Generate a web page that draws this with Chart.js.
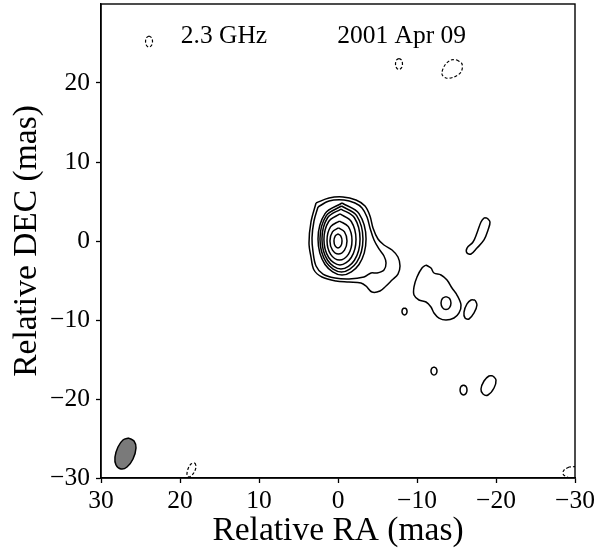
<!DOCTYPE html>
<html>
<head>
<meta charset="utf-8">
<script src="https://cdn.jsdelivr.net/npm/chart.js@4.4.0/dist/chart.umd.min.js"></script>
<style>
  html, body { margin: 0; padding: 0; background: #fff; }
  canvas { display: block; }
</style>
</head>
<body>
<canvas id="map" width="598" height="554"></canvas>
<script>
// contours as [RA, DEC] pairs in mas
// positive levels, outermost first
const core1 = [[2.78,4.81],[1.14,5.44],[-0.63,5.57],[-2.28,5.19],[-3.42,4.43],[-4.05,3.16],[-4.43,1.65],[-5.06,0.25],
  [-5.82,-0.51],[-6.84,-1.14],[-7.59,-2.03],[-7.85,-3.16],[-7.59,-4.18],[-6.84,-4.94],[-6.08,-5.70],[-5.32,-6.33],
  [-4.30,-6.46],[-3.54,-5.70],[-2.91,-5.32],[-1.39,-5.19],[0.25,-5.06],[2.03,-4.56],[3.04,-3.67],[3.42,-2.03],
  [3.67,-0.25],[3.42,2.41]];
const core2 = [[2.53,4.30],[1.14,5.06],[-0.76,5.19],[-2.15,4.81],[-3.04,4.18],[-3.67,3.04],[-4.05,1.65],[-4.56,0.13],
  [-5.19,-1.01],[-5.82,-1.90],[-6.08,-2.78],[-5.82,-3.67],[-4.94,-4.05],[-4.18,-4.05],[-3.29,-4.56],[-1.39,-4.81],
  [0.38,-4.68],[1.90,-4.18],[2.78,-3.16],[3.16,-1.39],[3.29,0.38],[3.04,2.53]];
const core3 = [[-0.51,4.81],[-2.66,3.47],[-3.55,0.25],[-2.66,-2.97],[-0.51,-4.31],[1.64,-2.97],[2.53,0.25],[1.64,3.47]];
const core4 = [[-0.44,4.43],[-2.36,3.21],[-3.16,0.25],[-2.36,-2.71],[-0.44,-3.93],[1.48,-2.71],[2.28,0.25],[1.48,3.21]];
const core5 = [[-0.38,4.05],[-2.08,2.94],[-2.79,0.25],[-2.08,-2.44],[-0.38,-3.55],[1.32,-2.44],[2.03,0.25],[1.32,2.94]];
const core6 = [[-0.25,3.42],[-1.68,2.47],[-2.28,0.19],[-1.68,-2.09],[-0.25,-3.04],[1.18,-2.09],[1.78,0.19],[1.18,2.47]];
const core7 = [[-0.19,2.53],[-1.31,1.81],[-1.77,0.06],[-1.31,-1.69],[-0.19,-2.41],[0.93,-1.69],[1.39,0.06],[0.93,1.81]];
const core8 = [[-0.06,1.65],[-0.82,1.16],[-1.14,0],[-0.82,-1.16],[-0.06,-1.65],[0.70,-1.16],[1.02,0],[0.70,1.16]];
const core9 = [[0,0.89],[-0.36,0.63],[-0.51,0],[-0.36,-0.63],[0,-0.89],[0.36,-0.63],[0.51,0],[0.36,0.63]];

const jetBlob = [[-11.14,-3.04],[-11.77,-3.42],[-12.15,-4.05],[-13.04,-4.30],[-13.80,-4.94],[-14.43,-5.95],[-15.06,-6.84],
  [-15.57,-8.10],[-15.32,-9.11],[-14.68,-9.75],[-13.67,-10.00],[-12.78,-9.75],[-12.15,-9.11],[-11.77,-8.35],
  [-11.14,-7.72],[-10.25,-7.47],[-9.62,-6.84],[-9.62,-5.82],[-10.00,-4.56],[-10.63,-3.42]];
const jetKnot = [[-13.67,-7.03],[-14.12,-7.27],[-14.30,-7.85],[-14.12,-8.43],[-13.67,-8.67],[-13.22,-8.43],[-13.04,-7.85],[-13.22,-7.27]];
const jetSide = [[-17.34,-7.47],[-17.59,-8.10],[-17.22,-9.11],[-16.58,-9.87],[-16.08,-9.75],[-15.95,-8.99],[-16.33,-7.97],[-16.84,-7.47]];
const jetDot = [[-8.42,-8.48],[-8.65,-8.61],[-8.74,-8.92],[-8.65,-9.23],[-8.42,-9.36],[-8.19,-9.23],[-8.10,-8.92],[-8.19,-8.61]];
const northStreak = [[-18.86,2.91],[-19.24,2.41],[-18.99,1.39],[-18.48,0.13],[-17.59,-0.89],[-16.84,-1.65],[-16.33,-1.52],
  [-16.33,-0.89],[-17.09,-0.13],[-17.59,1.01],[-18.10,2.41],[-18.48,2.91]];
const southDot1 = [[-12.15,-15.95],[-12.42,-16.10],[-12.53,-16.46],[-12.42,-16.82],[-12.15,-16.97],[-11.88,-16.82],[-11.77,-16.46],[-11.88,-16.10]];
const southDot2 = [[-15.89,-18.23],[-16.20,-18.41],[-16.33,-18.86],[-16.20,-19.31],[-15.89,-19.49],[-15.58,-19.31],[-15.45,-18.86],[-15.58,-18.41]];
const southBlob = [[-19.62,-17.09],[-20.00,-17.59],[-19.75,-18.61],[-18.99,-19.49],[-18.35,-19.37],[-18.10,-18.73],[-18.48,-17.72],[-19.11,-17.09]];

// negative level (dashed)
const negTopLeft = [[23.92,25.95],[23.61,25.75],[23.48,25.25],[23.61,24.75],[23.92,24.55],[24.23,24.75],[24.36,25.25],[24.23,25.75]];
const negTop1 = [[-7.72,23.11],[-8.03,22.91],[-8.16,22.41],[-8.03,21.91],[-7.72,21.71],[-7.41,21.91],[-7.28,22.41],[-7.41,22.91]];
const negTop2 = [[-15.06,22.91],[-15.70,22.41],[-15.57,21.39],[-14.68,20.76],[-13.67,20.63],[-13.16,21.14],[-13.54,22.28],[-14.30,22.91]];
const negBottomLeft = [[18.10,-28.10],[17.97,-28.61],[18.35,-29.49],[18.86,-29.87],[19.11,-29.62],[18.99,-28.86],[18.61,-28.23]];
const negBottomRight = [[-29.24,-28.61],[-28.61,-28.99],[-28.48,-29.49],[-28.99,-29.87],[-29.75,-30.0],[-30.51,-29.75],[-30.76,-29.11],[-30.25,-28.61]];

// restoring beam
const beam = [[26.46,-24.94],[25.82,-25.32],[25.57,-26.20],[25.95,-27.59],[26.71,-28.61],[27.47,-28.86],[28.10,-28.35],
  [28.23,-27.34],[27.85,-26.08],[27.22,-25.19]];

const positive = [core1, core2, core3, core4, core5, core6, core7, core8, core9,
  jetBlob, jetKnot, jetSide, jetDot, northStreak, southDot1, southDot2, southBlob];
const negative = [negTopLeft, negTop1, negTop2, negBottomLeft, negBottomRight];

const xTicks = [30, 20, 10, 0, -10, -20, -30];
const yTicks = [20, 10, 0, -10, -20, -30];
const freqLabel = '2.3 GHz';
const dateLabel = '2001 Apr 09';

const serif = '"Liberation Serif", "Times New Roman", serif';
const toXY = pts => pts.concat([pts[0]]).map(p => ({ x: p[0], y: p[1] }));
const fmt = v => (v < 0 ? '\u2212' + Math.abs(v) : String(v));

const datasets = [];
positive.forEach(c => datasets.push({
  data: toXY(c), showLine: true, pointRadius: 0, borderColor: '#000', borderWidth: 1.5, tension: 0.35, fill: false
}));
negative.forEach(c => datasets.push({
  data: toXY(c), showLine: true, pointRadius: 0, borderColor: '#000', borderWidth: 1.2, borderDash: [3, 2],
  tension: 0.35, fill: false
}));
datasets.push({
  data: toXY(beam), showLine: true, pointRadius: 0, borderColor: '#000', borderWidth: 1.5, tension: 0.35,
  fill: 'shape', backgroundColor: '#7a7a7a'
});

const annotations = [
  { text: freqLabel, x: 19.9, y: 25.1 },
  { text: dateLabel, x: 0.1, y: 25.1 }
];

const framePlugin = {
  id: 'frame',
  afterDraw(chart) {
    const { ctx, chartArea: a } = chart;
    ctx.save();
    ctx.strokeStyle = '#000';
    ctx.lineWidth = 1.4;
    ctx.strokeRect(a.left, a.top, a.right - a.left, a.bottom - a.top);
    ctx.restore();
  }
};

const labelPlugin = {
  id: 'mapLabels',
  afterDatasetsDraw(chart) {
    const { ctx, scales: { x, y } } = chart;
    ctx.save();
    ctx.font = '25.5px ' + serif;
    ctx.fillStyle = '#000';
    ctx.textAlign = 'left';
    ctx.textBaseline = 'alphabetic';
    annotations.forEach(a => ctx.fillText(a.text, x.getPixelForValue(a.x), y.getPixelForValue(a.y)));
    ctx.restore();
  }
};

new Chart(document.getElementById('map').getContext('2d'), {
  type: 'scatter',
  data: { datasets },
  options: {
    responsive: false,
    animation: false,
    layout: { padding: { top: 4, right: 23, left: 0, bottom: 0 } },
    plugins: { legend: { display: false }, tooltip: { enabled: false } },
    scales: {
      x: {
        type: 'linear', reverse: true, min: -30, max: 30,
        afterBuildTicks: s => { s.ticks = xTicks.map(v => ({ value: v })); },
        afterFit: s => { s.height = 76; s.paddingLeft = 0; s.paddingRight = 0; },
        grid: { drawOnChartArea: false, drawTicks: true, tickLength: 5, tickColor: '#000', tickWidth: 1.3 },
        border: { display: true, color: '#000', width: 1.4 },
        ticks: { color: '#000', font: { family: serif, size: 25.5 }, padding: 3, maxRotation: 0, autoSkip: false, callback: fmt },
        title: { display: true, text: 'Relative RA (mas)', color: '#000',
          font: { family: serif, size: 33.5, lineHeight: 1 }, padding: { top: 0, bottom: 6 } }
      },
      y: {
        type: 'linear', min: -30, max: 30,
        afterBuildTicks: s => { s.ticks = yTicks.map(v => ({ value: v })); },
        afterFit: s => { s.width = 101; s.paddingTop = 0; s.paddingBottom = 0; },
        grid: { drawOnChartArea: false, drawTicks: true, tickLength: 5, tickColor: '#000', tickWidth: 1.3 },
        border: { display: true, color: '#000', width: 1.4 },
        ticks: { color: '#000', font: { family: serif, size: 25.5 }, padding: 6, autoSkip: false, callback: fmt },
        title: { display: true, text: 'Relative DEC (mas)', color: '#000',
          font: { family: serif, size: 33.5, lineHeight: 1 }, padding: { top: 10, bottom: 0 } }
      }
    }
  },
  plugins: [framePlugin, labelPlugin]
});
</script>
</body>
</html>
